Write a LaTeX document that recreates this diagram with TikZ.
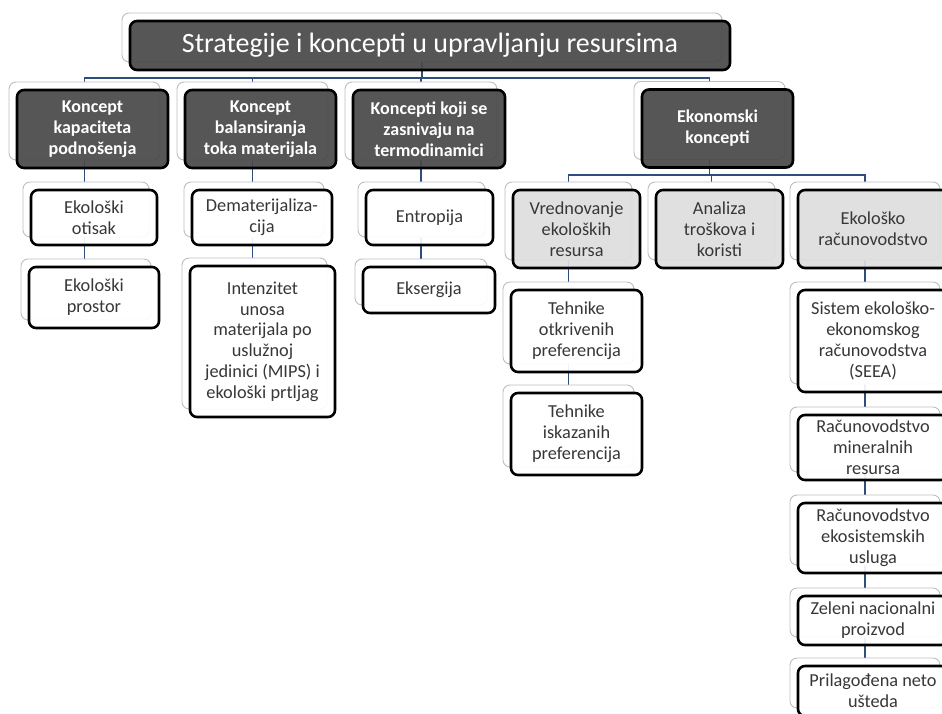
\documentclass[tikz,border=0pt]{standalone}
\usepackage{fontspec}
\setmainfont{Carlito}
\usetikzlibrary{backgrounds}

\definecolor{darkfill}{RGB}{72,72,72}
\definecolor{lightfill}{RGB}{222,222,222}
\definecolor{bggray}{RGB}{190,190,190}
\definecolor{linkblue}{RGB}{44,78,124}
\definecolor{bodytext}{RGB}{55,55,55}

\newcommand\fTitle{\fontsize{28}{32}\selectfont}
\newcommand\fLevelOne{\fontsize{18}{21}\selectfont\bfseries}
\newcommand\fLevelTwo{\fontsize{18.3}{20.8}\selectfont}

\tikzset{
  shadowbox/.style={draw=bggray, line width=0.9pt, fill=white, rounded corners=7pt, inner sep=0pt},
  mainbox/.style={draw=black, line width=2.6pt, rounded corners=7pt, inner sep=0pt,
                  align=center, fill opacity=0.92, text opacity=1},
  darkbox/.style={mainbox, fill=darkfill, text=white, font=\fLevelOne},
  titlebox/.style={mainbox, fill=darkfill, text=white, font=\fTitle},
  greybox/.style={mainbox, fill=lightfill, text=bodytext, font=\fLevelTwo},
  whitebox/.style={mainbox, fill=white, text=bodytext, font=\fLevelTwo},
  link/.style={draw=linkblue, line width=1.8pt}
}

% #1 name, #2 style, #3 x, #4 y, #5 width, #6 height, #7 text
\newcommand\pairbox[7]{%
  \node[shadowbox, minimum width=#5pt, minimum height=#6pt] (#1b) at ({#3-8},{#4-8}) {};
  \node[#2, minimum width=#5pt, minimum height=#6pt] (#1) at (#3,#4) {#7};}

\begin{document}
\begin{tikzpicture}[x=1pt, y=-1pt]
\useasboundingbox (0,0) rectangle (942,714);

% root
\pairbox{root}{titlebox}{430}{45.5}{600}{49}{Strategije i koncepti u upravljanju resursima}

% first level
\pairbox{kap}{darkbox}{92.5}{129}{151}{78}{Koncept\\kapaciteta\\podnošenja}
\pairbox{bal}{darkbox}{260.5}{129}{151}{78}{Koncept\\balansiranja\\toka materijala}
\pairbox{ter}{darkbox}{429}{129}{152}{78}{Koncepti koji se\\zasnivaju na\\termodinamici}
\pairbox{eko}{darkbox}{717.5}{128.5}{151}{78}{Ekonomski\\koncepti}

% carrying capacity branch
\pairbox{otisak}{whitebox}{94}{217.5}{126}{55}{Ekološki\\otisak}
\pairbox{prostor}{whitebox}{94}{297.5}{130}{61}{Ekološki\\prostor}

% material flow branch
\pairbox{demat}{whitebox}{262}{217.5}{140}{55}{Dematerijaliza-\\cija}
\pairbox{mips}{whitebox}{262.5}{341.5}{145}{151}{Intenzitet\\unosa\\materijala po\\uslužnoj\\jedinici (MIPS) i\\ekološki prtljag}

% thermodynamics branch
\pairbox{entropija}{whitebox}{429.5}{217.5}{127}{55}{Entropija}
\pairbox{eksergija}{whitebox}{429}{290}{132}{46}{Eksergija}

% economic branch
\pairbox{vred}{greybox}{576.5}{229}{127}{78}{Vrednovanje\\ekoloških\\resursa}
\pairbox{analiza}{greybox}{719.5}{229}{127}{78}{Analiza\\troškova i\\koristi}
\pairbox{racun}{greybox}{873}{229}{150}{78}{Ekološko\\računovodstvo}

\pairbox{otkr}{whitebox}{576.5}{331}{131}{82}{Tehnike\\otkrivenih\\preferencija}
\pairbox{iskaz}{whitebox}{576.5}{434}{131}{82}{Tehnike\\iskazanih\\preferencija}

\pairbox{seea}{whitebox}{873}{341}{150}{102}{Sistem ekološko-\\ekonomskog\\računovodstva\\(SEEA)}
\pairbox{mineral}{whitebox}{873}{447.5}{150}{65}{Računovodstvo\\mineralnih\\resursa}
\pairbox{usluge}{whitebox}{873}{538}{150}{70}{Računovodstvo\\ekosistemskih\\usluga}
\pairbox{zeleni}{whitebox}{873}{620.5}{150}{49}{Zeleni nacionalni\\proizvod}
\pairbox{usteda}{whitebox}{873}{691}{150}{50}{Prilagođena neto\\ušteda}

\coordinate (busA) at (0,78);
\coordinate (busB) at (0,175);

\begin{scope}[on background layer]
  % root to first level
  \foreach \c in {kap,bal,ter,eko}
    \draw[link] (rootb.center) -- (rootb.center |- busA) -| (\c b.center);
  % economic concepts to its children
  \foreach \c in {vred,analiza,racun}
    \draw[link] (ekob.center) -- (ekob.center |- busB) -| (\c b.center);
  % vertical chains
  \draw[link] (kapb.center) -- (kapb.center |- prostorb.center);
  \draw[link] (balb.center) -- (balb.center |- mipsb.center);
  \draw[link] (terb.center) -- (terb.center |- eksergijab.center);
  \draw[link] (vredb.center) -- (vredb.center |- iskazb.center);
  \draw[link] (racunb.center) -- (racunb.center |- ustedab.center);
\end{scope}
\end{tikzpicture}
\end{document}
